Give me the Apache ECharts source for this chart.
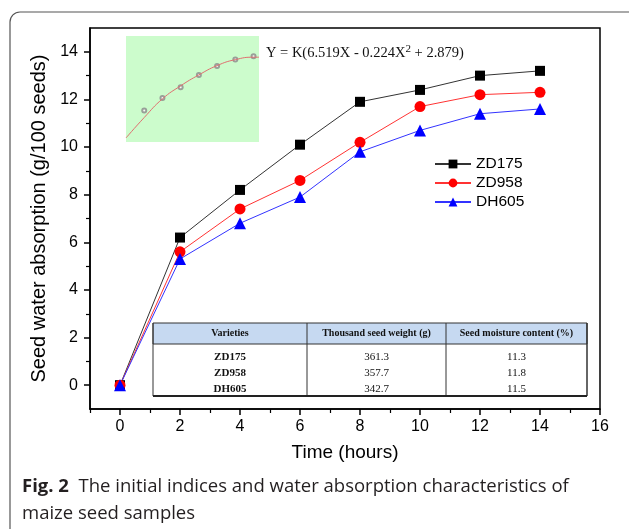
<!DOCTYPE html>
<html><head><meta charset="utf-8">
<script src="https://cdn.jsdelivr.net/npm/echarts@6/dist/echarts.min.js"></script>
<style>html,body{margin:0;padding:0;background:#fff}#c{width:629px;height:529px}</style>
</head><body><div id="c"></div>
<script>
// ---- data ----
const hours = [0, 2, 4, 6, 8, 10, 12, 14];
const zd175 = [0, 6.2, 8.2, 10.1, 11.9, 12.4, 13.0, 13.2];
const zd958 = [0, 5.6, 7.4, 8.6, 10.2, 11.7, 12.2, 12.3];
const dh605 = [0, 5.3, 6.8, 7.9, 9.8, 10.7, 11.4, 11.6];
const seriesNames = ['ZD175', 'ZD958', 'DH605'];
const xMajorTicks = [0, 2, 4, 6, 8, 10, 12, 14, 16];
const xMinorTicks = [-1, 1, 3, 5, 7, 9, 11, 13, 15];
const yMajorTicks = [0, 2, 4, 6, 8, 10, 12, 14];
const yMinorTicks = [1, 3, 5, 7, 9, 11, 13];
// inset (fitted curve sketch)
const insetPointsX = [1, 2, 3, 4, 5, 6, 7];
const insetPointsY = [29.7, 41.4, 51.7, 63.3, 71.6, 77.9, 80.9];
const insetCurveX = [0, 1, 2, 3, 4, 5, 6, 7, 7.3];
const insetCurveY = [3.8, 23.1, 40.7, 53.0, 63.3, 72.1, 77.7, 80.0, 80.0];
const equation = 'Y = K(6.519X - 0.224X{sup|2} + 2.879)';
// table
const tableHeader = ['Varieties', 'Thousand seed weight (g)', 'Seed moisture content (%)'];
const varieties = ['ZD175', 'ZD958', 'DH605'];
const thousandSeedWeight = ['361.3', '357.7', '342.7'];
const moistureContent = ['11.3', '11.8', '11.5'];
const captionBold = 'Fig. 2';
const captionLine1 = 'The initial indices and water absorption characteristics of';
const captionLine2 = 'maize seed samples';

const pair = (xs, ys) => xs.map((x, i) => [x, ys[i]]);

// table geometry
const T = {x0: 153, x1: 307, x2: 446, x3: 587, top: 323, hb: 344, bottom: 396, rows: [358, 374, 390]};
const serif = 'Liberation Serif, Times New Roman, serif';
const tbl = [];
tbl.push({type: 'rect', shape: {x: T.x0, y: T.top, width: T.x3 - T.x0, height: T.hb - T.top}, style: {fill: '#c6d9f1', stroke: '#333', lineWidth: 1}});
tbl.push({type: 'line', shape: {x1: T.x0, y1: T.top, x2: T.x0, y2: T.bottom}, style: {stroke: '#333', lineWidth: 1}});
tbl.push({type: 'line', shape: {x1: T.x3, y1: T.top, x2: T.x3, y2: T.bottom}, style: {stroke: '#333', lineWidth: 1.5}});
tbl.push({type: 'line', shape: {x1: T.x1, y1: T.top, x2: T.x1, y2: T.bottom}, style: {stroke: '#333', lineWidth: 1}});
tbl.push({type: 'line', shape: {x1: T.x2, y1: T.top, x2: T.x2, y2: T.bottom}, style: {stroke: '#333', lineWidth: 1}});
tbl.push({type: 'line', shape: {x1: T.x0, y1: T.bottom, x2: T.x3, y2: T.bottom}, style: {stroke: '#222', lineWidth: 2}});
const colC = [(T.x0 + T.x1) / 2, (T.x1 + T.x2) / 2, (T.x2 + T.x3) / 2];
tableHeader.forEach((h, i) => tbl.push({type: 'text', x: colC[i], y: (T.top + T.hb) / 2, style: {text: h, fontFamily: serif, fontSize: 10, fontWeight: 'bold', fill: '#111', align: 'center', verticalAlign: 'middle'}}));
varieties.forEach((v, r) => {
  tbl.push({type: 'text', x: colC[0], y: T.rows[r] - 1, style: {text: v, fontFamily: serif, fontSize: 11, fontWeight: 'bold', fill: '#111', align: 'center', verticalAlign: 'middle'}});
  tbl.push({type: 'text', x: colC[1], y: T.rows[r] - 1, style: {text: thousandSeedWeight[r], fontFamily: serif, fontSize: 11, fill: '#111', align: 'center', verticalAlign: 'middle'}});
  tbl.push({type: 'text', x: colC[2], y: T.rows[r] - 1, style: {text: moistureContent[r], fontFamily: serif, fontSize: 11, fill: '#111', align: 'center', verticalAlign: 'middle'}});
});

const sans = 'Liberation Sans, Arial, sans-serif';
const capFont = 'Open Sans, Noto Sans, sans-serif';
const chart = echarts.init(document.getElementById('c'), null, {renderer: 'canvas'});
chart.setOption({
  backgroundColor: '#fff',
  animation: false,
  grid: [
    {left: 90, top: 28, right: 29, bottom: 120, show: true, borderColor: '#000', borderWidth: 1.5, backgroundColor: 'transparent'},
    {left: 126, top: 36, width: 133, height: 106, show: true, backgroundColor: '#ccfccc', borderWidth: 0}
  ],
  xAxis: [
    {type: 'value', gridIndex: 0, min: -1, max: 16, position: 'bottom',
     axisLine: {onZero: false, lineStyle: {color: '#000', width: 1.5}},
     axisTick: {show: true, customValues: xMajorTicks, length: 6, lineStyle: {color: '#000', width: 1.5}},
     axisLabel: {customValues: xMajorTicks, fontFamily: sans, fontSize: 16, color: '#000', margin: 10},
     splitLine: {show: false},
     name: 'Time (hours)', nameLocation: 'middle', nameGap: 34,
     nameTextStyle: {fontFamily: sans, fontSize: 19, color: '#000'}},
    {type: 'value', gridIndex: 0, min: -1, max: 16, position: 'bottom',
     axisLine: {show: false, onZero: false},
     axisTick: {show: true, customValues: xMinorTicks, length: 4, lineStyle: {color: '#000', width: 1.2}},
     axisLabel: {show: false}, splitLine: {show: false}},
    {type: 'value', gridIndex: 1, min: 0, max: 7.3, show: false}
  ],
  yAxis: [
    {type: 'value', gridIndex: 0, min: -1, max: 15, position: 'left',
     axisLine: {show: true, onZero: false, lineStyle: {color: '#000', width: 1.5}},
     axisTick: {show: true, customValues: yMajorTicks, length: 6, lineStyle: {color: '#000', width: 1.5}},
     axisLabel: {customValues: yMajorTicks, fontFamily: sans, fontSize: 16, color: '#000', margin: 12},
     splitLine: {show: false},
     name: 'Seed water absorption (g/100 seeds)', nameLocation: 'middle', nameGap: 37,
     nameTextStyle: {fontFamily: sans, fontSize: 20, color: '#000'}},
    {type: 'value', gridIndex: 0, min: -1, max: 15, position: 'left',
     axisLine: {show: false, onZero: false},
     axisTick: {show: true, customValues: yMinorTicks, length: 4, lineStyle: {color: '#000', width: 1.2}},
     axisLabel: {show: false}, splitLine: {show: false}},
    {type: 'value', gridIndex: 1, min: 0, max: 100, show: false}
  ],
  legend: {
    orient: 'vertical', left: 434, top: 156, padding: 0, itemWidth: 36, itemHeight: 11, itemGap: 3,
    data: seriesNames,
    textStyle: {fontFamily: sans, fontSize: 15.5, color: '#000'}
  },
  series: [
    {name: seriesNames[0], type: 'line', xAxisIndex: 0, yAxisIndex: 0, data: pair(hours, zd175),
     symbol: 'rect', symbolSize: 10, itemStyle: {color: '#000'}, lineStyle: {color: '#333', width: 1}, z: 5},
    {name: seriesNames[1], type: 'line', xAxisIndex: 0, yAxisIndex: 0, data: pair(hours, zd958),
     symbol: 'circle', symbolSize: 11, itemStyle: {color: '#ff0000'}, lineStyle: {color: '#ff3333', width: 1}, z: 5},
    {name: seriesNames[2], type: 'line', xAxisIndex: 0, yAxisIndex: 0, data: pair(hours, dh605),
     symbol: 'triangle', symbolSize: 12, itemStyle: {color: '#0000ff'}, lineStyle: {color: '#3333ff', width: 1}, z: 5},
    {type: 'line', xAxisIndex: 2, yAxisIndex: 2, data: pair(insetCurveX, insetCurveY), smooth: true,
     showSymbol: false, lineStyle: {color: '#e07070', width: 1}, silent: true},
    {type: 'scatter', xAxisIndex: 2, yAxisIndex: 2, data: pair(insetPointsX, insetPointsY),
     symbol: 'emptyCircle', symbolSize: 4, itemStyle: {color: '#888', borderColor: '#777', borderWidth: 1}, silent: true}
  ],
  graphic: [
    {type: 'rect', shape: {x: 10, y: 12, width: 640, height: 540, r: 10}, style: {fill: 'none', stroke: '#555', lineWidth: 1.2}, z: -10},
    {type: 'text', x: 266, y: 44, style: {text: equation, fontFamily: serif, fontSize: 14.5, fill: '#111',
      rich: {sup: {fontFamily: serif, fontSize: 11, fill: '#111', padding: [0, 0, 8, 0]}}}},
    {type: 'group', children: tbl},
    {type: 'text', x: 22, y: 477, style: {text: '{b|' + captionBold + '}  ' + captionLine1, fontFamily: capFont, fontSize: 18.5, fill: '#231f20',
      rich: {b: {fontFamily: capFont, fontSize: 18.5, fontWeight: 'bold', fill: '#231f20'}}}},
    {type: 'text', x: 22, y: 504, style: {text: captionLine2, fontFamily: capFont, fontSize: 18.5, fill: '#231f20'}}
  ]
});
</script></body></html>
